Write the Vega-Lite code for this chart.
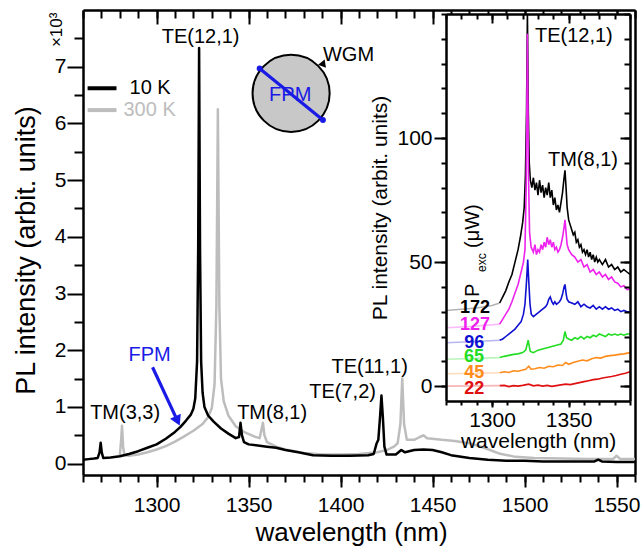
{
  "$schema": "https://vega.github.io/schema/vega-lite/v6.json",
  "width": 552,
  "height": 465,
  "autosize": {"type": "none"},
  "padding": {"left": 83, "top": 10, "right": 6, "bottom": 82},
  "background": "white",
  "config": {
    "view": {"stroke": null},
    "font": "Liberation Sans",
    "axis": {"grid": false, "domainColor": "black", "domainWidth": 2.5, "tickColor": "black", "tickWidth": 2, "labelColor": "black", "titleColor": "black", "labelFont": "Liberation Sans", "titleFont": "Liberation Sans", "titleFontWeight": "normal", "labelOverlap": false, "labelFlush": false},
    "text": {"font": "Liberation Sans"}
  },
  "datasets": {
    "main": [
      {"wl": 1280, "pl": 0.14, "T": "300 K"}, {"wl": 1280.7, "pl": 0.4, "T": "300 K"}, {"wl": 1281.2, "pl": 0.67, "T": "300 K"}, {"wl": 1281.8, "pl": 0.3, "T": "300 K"}, {"wl": 1282.5, "pl": 0.15, "T": "300 K"}, {"wl": 1285, "pl": 0.14, "T": "300 K"}, {"wl": 1290, "pl": 0.16, "T": "300 K"}, {"wl": 1295, "pl": 0.2, "T": "300 K"}, {"wl": 1300, "pl": 0.25, "T": "300 K"}, {"wl": 1305, "pl": 0.31, "T": "300 K"}, {"wl": 1310, "pl": 0.39, "T": "300 K"}, {"wl": 1315, "pl": 0.48, "T": "300 K"}, {"wl": 1320, "pl": 0.58, "T": "300 K"}, {"wl": 1325, "pl": 0.7, "T": "300 K"}, {"wl": 1328, "pl": 0.82, "T": "300 K"}, {"wl": 1330, "pl": 0.98, "T": "300 K"}, {"wl": 1331.5, "pl": 1.4, "T": "300 K"}, {"wl": 1332.5, "pl": 2.8, "T": "300 K"}, {"wl": 1333.3, "pl": 6.25, "T": "300 K"}, {"wl": 1334.1, "pl": 2.8, "T": "300 K"}, {"wl": 1335, "pl": 1.5, "T": "300 K"}, {"wl": 1336.5, "pl": 1.1, "T": "300 K"}, {"wl": 1339, "pl": 0.85, "T": "300 K"}, {"wl": 1343, "pl": 0.66, "T": "300 K"}, {"wl": 1348, "pl": 0.55, "T": "300 K"}, {"wl": 1353, "pl": 0.48, "T": "300 K"}, {"wl": 1356, "pl": 0.45, "T": "300 K"}, {"wl": 1357, "pl": 0.6, "T": "300 K"}, {"wl": 1357.8, "pl": 0.72, "T": "300 K"}, {"wl": 1358.6, "pl": 0.5, "T": "300 K"}, {"wl": 1360, "pl": 0.38, "T": "300 K"}, {"wl": 1365, "pl": 0.3, "T": "300 K"}, {"wl": 1370, "pl": 0.25, "T": "300 K"}, {"wl": 1380, "pl": 0.19, "T": "300 K"}, {"wl": 1390, "pl": 0.16, "T": "300 K"}, {"wl": 1400, "pl": 0.16, "T": "300 K"}, {"wl": 1410, "pl": 0.17, "T": "300 K"}, {"wl": 1420, "pl": 0.2, "T": "300 K"}, {"wl": 1425, "pl": 0.24, "T": "300 K"}, {"wl": 1429, "pl": 0.3, "T": "300 K"}, {"wl": 1431, "pl": 0.36, "T": "300 K"}, {"wl": 1432.5, "pl": 0.7, "T": "300 K"}, {"wl": 1433.5, "pl": 1.5, "T": "300 K"}, {"wl": 1434.5, "pl": 0.7, "T": "300 K"}, {"wl": 1436, "pl": 0.42, "T": "300 K"}, {"wl": 1440, "pl": 0.42, "T": "300 K"}, {"wl": 1443, "pl": 0.47, "T": "300 K"}, {"wl": 1445, "pl": 0.5, "T": "300 K"}, {"wl": 1447, "pl": 0.45, "T": "300 K"}, {"wl": 1455, "pl": 0.42, "T": "300 K"}, {"wl": 1462, "pl": 0.4, "T": "300 K"}, {"wl": 1470, "pl": 0.36, "T": "300 K"}, {"wl": 1478, "pl": 0.28, "T": "300 K"}, {"wl": 1486, "pl": 0.18, "T": "300 K"}, {"wl": 1495, "pl": 0.12, "T": "300 K"}, {"wl": 1505, "pl": 0.1, "T": "300 K"}, {"wl": 1520, "pl": 0.09, "T": "300 K"}, {"wl": 1535, "pl": 0.08, "T": "300 K"}, {"wl": 1548, "pl": 0.08, "T": "300 K"}, {"wl": 1550, "pl": 0.14, "T": "300 K"}, {"wl": 1552, "pl": 0.08, "T": "300 K"}, {"wl": 1560, "pl": 0.08, "T": "300 K"},
      {"wl": 1260, "pl": 0.07, "T": "10 K"}, {"wl": 1263, "pl": 0.08, "T": "10 K"}, {"wl": 1266, "pl": 0.09, "T": "10 K"}, {"wl": 1268, "pl": 0.1, "T": "10 K"}, {"wl": 1269, "pl": 0.2, "T": "10 K"}, {"wl": 1269.6, "pl": 0.37, "T": "10 K"}, {"wl": 1270.2, "pl": 0.2, "T": "10 K"}, {"wl": 1271, "pl": 0.1, "T": "10 K"}, {"wl": 1275, "pl": 0.11, "T": "10 K"}, {"wl": 1280, "pl": 0.13, "T": "10 K"}, {"wl": 1285, "pl": 0.17, "T": "10 K"}, {"wl": 1290, "pl": 0.22, "T": "10 K"}, {"wl": 1295, "pl": 0.28, "T": "10 K"}, {"wl": 1300, "pl": 0.34, "T": "10 K"}, {"wl": 1305, "pl": 0.44, "T": "10 K"}, {"wl": 1310, "pl": 0.56, "T": "10 K"}, {"wl": 1313, "pl": 0.65, "T": "10 K"}, {"wl": 1316, "pl": 0.76, "T": "10 K"}, {"wl": 1318.5, "pl": 0.86, "T": "10 K"}, {"wl": 1320, "pl": 0.97, "T": "10 K"}, {"wl": 1321, "pl": 1.15, "T": "10 K"}, {"wl": 1322, "pl": 1.8, "T": "10 K"}, {"wl": 1322.6, "pl": 3.8, "T": "10 K"}, {"wl": 1323.1, "pl": 7.33, "T": "10 K"}, {"wl": 1323.6, "pl": 3.8, "T": "10 K"}, {"wl": 1324.2, "pl": 1.8, "T": "10 K"}, {"wl": 1325, "pl": 1.25, "T": "10 K"}, {"wl": 1326, "pl": 1.0, "T": "10 K"}, {"wl": 1328, "pl": 0.85, "T": "10 K"}, {"wl": 1331, "pl": 0.74, "T": "10 K"}, {"wl": 1335, "pl": 0.62, "T": "10 K"}, {"wl": 1339, "pl": 0.53, "T": "10 K"}, {"wl": 1343, "pl": 0.45, "T": "10 K"}, {"wl": 1344.8, "pl": 0.47, "T": "10 K"}, {"wl": 1345.6, "pl": 0.72, "T": "10 K"}, {"wl": 1346.4, "pl": 0.5, "T": "10 K"}, {"wl": 1347.5, "pl": 0.38, "T": "10 K"}, {"wl": 1350, "pl": 0.34, "T": "10 K"}, {"wl": 1355, "pl": 0.32, "T": "10 K"}, {"wl": 1360, "pl": 0.3, "T": "10 K"}, {"wl": 1365, "pl": 0.28, "T": "10 K"}, {"wl": 1370, "pl": 0.24, "T": "10 K"}, {"wl": 1377, "pl": 0.2, "T": "10 K"}, {"wl": 1385, "pl": 0.15, "T": "10 K"}, {"wl": 1395, "pl": 0.14, "T": "10 K"}, {"wl": 1405, "pl": 0.14, "T": "10 K"}, {"wl": 1415, "pl": 0.15, "T": "10 K"}, {"wl": 1418, "pl": 0.17, "T": "10 K"}, {"wl": 1419.5, "pl": 0.35, "T": "10 K"}, {"wl": 1420.5, "pl": 0.42, "T": "10 K"}, {"wl": 1421.5, "pl": 0.85, "T": "10 K"}, {"wl": 1422.2, "pl": 1.2, "T": "10 K"}, {"wl": 1423, "pl": 0.8, "T": "10 K"}, {"wl": 1423.8, "pl": 0.3, "T": "10 K"}, {"wl": 1425, "pl": 0.16, "T": "10 K"}, {"wl": 1430, "pl": 0.16, "T": "10 K"}, {"wl": 1433, "pl": 0.24, "T": "10 K"}, {"wl": 1435, "pl": 0.2, "T": "10 K"}, {"wl": 1440, "pl": 0.24, "T": "10 K"}, {"wl": 1445, "pl": 0.25, "T": "10 K"}, {"wl": 1450, "pl": 0.24, "T": "10 K"}, {"wl": 1455, "pl": 0.2, "T": "10 K"}, {"wl": 1460, "pl": 0.15, "T": "10 K"}, {"wl": 1470, "pl": 0.1, "T": "10 K"}, {"wl": 1480, "pl": 0.07, "T": "10 K"}, {"wl": 1490, "pl": 0.05, "T": "10 K"}, {"wl": 1500, "pl": 0.05, "T": "10 K"}, {"wl": 1510, "pl": 0.04, "T": "10 K"}, {"wl": 1520, "pl": 0.04, "T": "10 K"}, {"wl": 1530, "pl": 0.04, "T": "10 K"}, {"wl": 1538, "pl": 0.04, "T": "10 K"}, {"wl": 1540, "pl": 0.07, "T": "10 K"}, {"wl": 1542, "pl": 0.04, "T": "10 K"}, {"wl": 1550, "pl": 0.03, "T": "10 K"}, {"wl": 1560, "pl": 0.03, "T": "10 K"}
    ],
    "insetFaded": [
      {"wl": 1270, "v": 30.5, "s": "172"}, {"wl": 1280, "v": 31, "s": "172"}, {"wl": 1290, "v": 31.5, "s": "172"}, {"wl": 1300, "v": 32.5, "s": "172"}, {"wl": 1305, "v": 33.5, "s": "172"},
      {"wl": 1270, "v": 23.5, "s": "127"}, {"wl": 1285, "v": 24, "s": "127"}, {"wl": 1305, "v": 25, "s": "127"},
      {"wl": 1270, "v": 17.5, "s": "96"}, {"wl": 1290, "v": 18, "s": "96"}, {"wl": 1305, "v": 18.5, "s": "96"},
      {"wl": 1270, "v": 10.8, "s": "65"}, {"wl": 1290, "v": 11.2, "s": "65"}, {"wl": 1305, "v": 11.5, "s": "65"},
      {"wl": 1270, "v": 5, "s": "45"}, {"wl": 1290, "v": 5.2, "s": "45"}, {"wl": 1305, "v": 5.4, "s": "45"},
      {"wl": 1270, "v": 0, "s": "22"}, {"wl": 1290, "v": 0.1, "s": "22"}, {"wl": 1305, "v": 0.2, "s": "22"}
    ],
    "inset": [
      {"wl": 1305, "v": 33.5, "s": "172"}, {"wl": 1307, "v": 36, "s": "172"}, {"wl": 1309, "v": 38.5, "s": "172"}, {"wl": 1311, "v": 42, "s": "172"}, {"wl": 1313, "v": 45, "s": "172"}, {"wl": 1315, "v": 50, "s": "172"}, {"wl": 1317, "v": 55, "s": "172"}, {"wl": 1318.5, "v": 60, "s": "172"}, {"wl": 1320, "v": 66, "s": "172"}, {"wl": 1321, "v": 72, "s": "172"}, {"wl": 1321.8, "v": 85, "s": "172"}, {"wl": 1322.5, "v": 110, "s": "172"}, {"wl": 1323.1, "v": 150, "s": "172"}, {"wl": 1323.7, "v": 110, "s": "172"}, {"wl": 1324.3, "v": 90, "s": "172"}, {"wl": 1325, "v": 83, "s": "172"}, {"wl": 1326, "v": 80, "s": "172"}, {"wl": 1327, "v": 84, "s": "172"}, {"wl": 1328, "v": 79, "s": "172"}, {"wl": 1329, "v": 82, "s": "172"}, {"wl": 1330, "v": 77, "s": "172"}, {"wl": 1331, "v": 83, "s": "172"}, {"wl": 1332, "v": 78, "s": "172"}, {"wl": 1333, "v": 81, "s": "172"}, {"wl": 1334, "v": 76, "s": "172"}, {"wl": 1335, "v": 80, "s": "172"}, {"wl": 1336, "v": 77, "s": "172"}, {"wl": 1337, "v": 82, "s": "172"}, {"wl": 1338, "v": 76, "s": "172"}, {"wl": 1339, "v": 79, "s": "172"}, {"wl": 1340, "v": 73, "s": "172"}, {"wl": 1341, "v": 76, "s": "172"}, {"wl": 1342, "v": 71, "s": "172"}, {"wl": 1343, "v": 73, "s": "172"}, {"wl": 1344, "v": 70, "s": "172"}, {"wl": 1345, "v": 74, "s": "172"}, {"wl": 1346, "v": 78, "s": "172"}, {"wl": 1347, "v": 84, "s": "172"}, {"wl": 1347.6, "v": 87, "s": "172"}, {"wl": 1348.3, "v": 80, "s": "172"}, {"wl": 1349, "v": 72, "s": "172"}, {"wl": 1350, "v": 67, "s": "172"}, {"wl": 1351, "v": 65, "s": "172"}, {"wl": 1352, "v": 63, "s": "172"}, {"wl": 1353, "v": 61, "s": "172"}, {"wl": 1354, "v": 62, "s": "172"}, {"wl": 1355, "v": 58, "s": "172"}, {"wl": 1356, "v": 59, "s": "172"}, {"wl": 1357, "v": 56, "s": "172"}, {"wl": 1358, "v": 57, "s": "172"}, {"wl": 1359, "v": 54, "s": "172"}, {"wl": 1360, "v": 55, "s": "172"}, {"wl": 1361, "v": 53, "s": "172"}, {"wl": 1362, "v": 55, "s": "172"}, {"wl": 1363, "v": 52, "s": "172"}, {"wl": 1364, "v": 54, "s": "172"}, {"wl": 1365, "v": 51, "s": "172"}, {"wl": 1366, "v": 53, "s": "172"}, {"wl": 1367, "v": 50, "s": "172"}, {"wl": 1368, "v": 52, "s": "172"}, {"wl": 1369, "v": 50, "s": "172"}, {"wl": 1370, "v": 51, "s": "172"}, {"wl": 1372, "v": 49, "s": "172"}, {"wl": 1374, "v": 51, "s": "172"}, {"wl": 1376, "v": 48, "s": "172"}, {"wl": 1378, "v": 49, "s": "172"}, {"wl": 1380, "v": 47, "s": "172"}, {"wl": 1382, "v": 48, "s": "172"}, {"wl": 1384, "v": 46, "s": "172"}, {"wl": 1386, "v": 47, "s": "172"}, {"wl": 1388, "v": 46, "s": "172"}, {"wl": 1390, "v": 45, "s": "172"},
      {"wl": 1305, "v": 25, "s": "127"}, {"wl": 1307, "v": 27, "s": "127"}, {"wl": 1309, "v": 29, "s": "127"}, {"wl": 1311, "v": 31, "s": "127"}, {"wl": 1313, "v": 34, "s": "127"}, {"wl": 1315, "v": 37.5, "s": "127"}, {"wl": 1317, "v": 41, "s": "127"}, {"wl": 1319, "v": 46, "s": "127"}, {"wl": 1320.5, "v": 50, "s": "127"}, {"wl": 1321.5, "v": 55, "s": "127"}, {"wl": 1322.3, "v": 80, "s": "127"}, {"wl": 1323.1, "v": 142, "s": "127"}, {"wl": 1323.8, "v": 85, "s": "127"}, {"wl": 1324.5, "v": 62, "s": "127"}, {"wl": 1325.5, "v": 56, "s": "127"}, {"wl": 1327, "v": 54, "s": "127"}, {"wl": 1328, "v": 57, "s": "127"}, {"wl": 1329, "v": 53, "s": "127"}, {"wl": 1330, "v": 55, "s": "127"}, {"wl": 1331, "v": 54, "s": "127"}, {"wl": 1332, "v": 57, "s": "127"}, {"wl": 1333, "v": 55, "s": "127"}, {"wl": 1334, "v": 58, "s": "127"}, {"wl": 1335, "v": 56, "s": "127"}, {"wl": 1336, "v": 60, "s": "127"}, {"wl": 1337, "v": 57, "s": "127"}, {"wl": 1338, "v": 59, "s": "127"}, {"wl": 1339, "v": 56, "s": "127"}, {"wl": 1340, "v": 58, "s": "127"}, {"wl": 1341, "v": 55, "s": "127"}, {"wl": 1342, "v": 56, "s": "127"}, {"wl": 1343, "v": 54, "s": "127"}, {"wl": 1344, "v": 55, "s": "127"}, {"wl": 1345, "v": 57, "s": "127"}, {"wl": 1346, "v": 60, "s": "127"}, {"wl": 1347, "v": 64, "s": "127"}, {"wl": 1347.6, "v": 67, "s": "127"}, {"wl": 1348.3, "v": 62, "s": "127"}, {"wl": 1349, "v": 57, "s": "127"}, {"wl": 1350, "v": 55, "s": "127"}, {"wl": 1352, "v": 53, "s": "127"}, {"wl": 1354, "v": 52, "s": "127"}, {"wl": 1356, "v": 50, "s": "127"}, {"wl": 1358, "v": 51, "s": "127"}, {"wl": 1360, "v": 48, "s": "127"}, {"wl": 1362, "v": 49, "s": "127"}, {"wl": 1364, "v": 46, "s": "127"}, {"wl": 1366, "v": 47, "s": "127"}, {"wl": 1368, "v": 45, "s": "127"}, {"wl": 1370, "v": 46, "s": "127"}, {"wl": 1372, "v": 44, "s": "127"}, {"wl": 1374, "v": 45, "s": "127"}, {"wl": 1376, "v": 43, "s": "127"}, {"wl": 1378, "v": 44, "s": "127"}, {"wl": 1380, "v": 42, "s": "127"}, {"wl": 1382, "v": 41.5, "s": "127"}, {"wl": 1384, "v": 40, "s": "127"}, {"wl": 1386, "v": 40.5, "s": "127"}, {"wl": 1388, "v": 39, "s": "127"}, {"wl": 1390, "v": 39, "s": "127"},
      {"wl": 1305, "v": 18.5, "s": "96"}, {"wl": 1307, "v": 19, "s": "96"}, {"wl": 1309, "v": 20, "s": "96"}, {"wl": 1311, "v": 21, "s": "96"}, {"wl": 1313, "v": 22, "s": "96"}, {"wl": 1315, "v": 23, "s": "96"}, {"wl": 1317, "v": 24.5, "s": "96"}, {"wl": 1319, "v": 26, "s": "96"}, {"wl": 1320.5, "v": 29, "s": "96"}, {"wl": 1321.5, "v": 33, "s": "96"}, {"wl": 1322.5, "v": 42, "s": "96"}, {"wl": 1323.3, "v": 51, "s": "96"}, {"wl": 1324, "v": 42, "s": "96"}, {"wl": 1324.8, "v": 33, "s": "96"}, {"wl": 1325.6, "v": 29, "s": "96"}, {"wl": 1327, "v": 28, "s": "96"}, {"wl": 1329, "v": 29, "s": "96"}, {"wl": 1331, "v": 30, "s": "96"}, {"wl": 1333, "v": 31, "s": "96"}, {"wl": 1335, "v": 32, "s": "96"}, {"wl": 1336, "v": 33, "s": "96"}, {"wl": 1337, "v": 35, "s": "96"}, {"wl": 1338, "v": 36, "s": "96"}, {"wl": 1339, "v": 34, "s": "96"}, {"wl": 1340, "v": 33, "s": "96"}, {"wl": 1341, "v": 34, "s": "96"}, {"wl": 1342, "v": 33, "s": "96"}, {"wl": 1343, "v": 33.5, "s": "96"}, {"wl": 1344, "v": 34, "s": "96"}, {"wl": 1345, "v": 35, "s": "96"}, {"wl": 1346, "v": 37, "s": "96"}, {"wl": 1347, "v": 40, "s": "96"}, {"wl": 1347.6, "v": 41, "s": "96"}, {"wl": 1348.4, "v": 37, "s": "96"}, {"wl": 1349, "v": 35, "s": "96"}, {"wl": 1350, "v": 34, "s": "96"}, {"wl": 1352, "v": 33.5, "s": "96"}, {"wl": 1354, "v": 33, "s": "96"}, {"wl": 1356, "v": 34, "s": "96"}, {"wl": 1358, "v": 32, "s": "96"}, {"wl": 1360, "v": 33, "s": "96"}, {"wl": 1362, "v": 32, "s": "96"}, {"wl": 1364, "v": 31.5, "s": "96"}, {"wl": 1366, "v": 32.5, "s": "96"}, {"wl": 1368, "v": 31, "s": "96"}, {"wl": 1370, "v": 32, "s": "96"}, {"wl": 1372, "v": 31, "s": "96"}, {"wl": 1374, "v": 32, "s": "96"}, {"wl": 1376, "v": 31, "s": "96"}, {"wl": 1378, "v": 31.5, "s": "96"}, {"wl": 1380, "v": 30.5, "s": "96"}, {"wl": 1382, "v": 31, "s": "96"}, {"wl": 1384, "v": 30, "s": "96"}, {"wl": 1386, "v": 30.5, "s": "96"}, {"wl": 1388, "v": 30, "s": "96"}, {"wl": 1390, "v": 30, "s": "96"},
      {"wl": 1305, "v": 11.5, "s": "65"}, {"wl": 1308, "v": 12, "s": "65"}, {"wl": 1311, "v": 12.4, "s": "65"}, {"wl": 1314, "v": 12.8, "s": "65"}, {"wl": 1317, "v": 13, "s": "65"}, {"wl": 1320, "v": 13.5, "s": "65"}, {"wl": 1322, "v": 14.5, "s": "65"}, {"wl": 1323, "v": 17, "s": "65"}, {"wl": 1323.6, "v": 18.5, "s": "65"}, {"wl": 1324.3, "v": 16, "s": "65"}, {"wl": 1325, "v": 14, "s": "65"}, {"wl": 1327, "v": 13.5, "s": "65"}, {"wl": 1330, "v": 14.5, "s": "65"}, {"wl": 1333, "v": 15, "s": "65"}, {"wl": 1336, "v": 15.5, "s": "65"}, {"wl": 1339, "v": 16, "s": "65"}, {"wl": 1342, "v": 16.5, "s": "65"}, {"wl": 1345, "v": 17, "s": "65"}, {"wl": 1346.5, "v": 18.5, "s": "65"}, {"wl": 1347.6, "v": 22, "s": "65"}, {"wl": 1348.6, "v": 19.5, "s": "65"}, {"wl": 1350, "v": 19, "s": "65"}, {"wl": 1352, "v": 18.5, "s": "65"}, {"wl": 1354, "v": 19.5, "s": "65"}, {"wl": 1356, "v": 19, "s": "65"}, {"wl": 1358, "v": 20, "s": "65"}, {"wl": 1360, "v": 19, "s": "65"}, {"wl": 1362, "v": 20, "s": "65"}, {"wl": 1364, "v": 19.5, "s": "65"}, {"wl": 1366, "v": 20.5, "s": "65"}, {"wl": 1368, "v": 20, "s": "65"}, {"wl": 1370, "v": 21, "s": "65"}, {"wl": 1372, "v": 20.5, "s": "65"}, {"wl": 1374, "v": 20, "s": "65"}, {"wl": 1376, "v": 21, "s": "65"}, {"wl": 1378, "v": 20.5, "s": "65"}, {"wl": 1380, "v": 21, "s": "65"}, {"wl": 1382, "v": 20.5, "s": "65"}, {"wl": 1384, "v": 21, "s": "65"}, {"wl": 1386, "v": 20.5, "s": "65"}, {"wl": 1388, "v": 21, "s": "65"}, {"wl": 1390, "v": 21, "s": "65"},
      {"wl": 1305, "v": 5.4, "s": "45"}, {"wl": 1308, "v": 5.8, "s": "45"}, {"wl": 1311, "v": 5.5, "s": "45"}, {"wl": 1314, "v": 6.2, "s": "45"}, {"wl": 1317, "v": 6, "s": "45"}, {"wl": 1320, "v": 6.5, "s": "45"}, {"wl": 1322, "v": 6.8, "s": "45"}, {"wl": 1324, "v": 8, "s": "45"}, {"wl": 1325.5, "v": 6.8, "s": "45"}, {"wl": 1328, "v": 7, "s": "45"}, {"wl": 1331, "v": 7.5, "s": "45"}, {"wl": 1334, "v": 7.2, "s": "45"}, {"wl": 1337, "v": 8, "s": "45"}, {"wl": 1340, "v": 7.8, "s": "45"}, {"wl": 1343, "v": 8.5, "s": "45"}, {"wl": 1346, "v": 8.3, "s": "45"}, {"wl": 1348, "v": 9.5, "s": "45"}, {"wl": 1350, "v": 8.8, "s": "45"}, {"wl": 1353, "v": 9.5, "s": "45"}, {"wl": 1356, "v": 10, "s": "45"}, {"wl": 1359, "v": 10.5, "s": "45"}, {"wl": 1362, "v": 10.2, "s": "45"}, {"wl": 1365, "v": 11, "s": "45"}, {"wl": 1368, "v": 11.5, "s": "45"}, {"wl": 1371, "v": 11.3, "s": "45"}, {"wl": 1374, "v": 12, "s": "45"}, {"wl": 1377, "v": 12.3, "s": "45"}, {"wl": 1380, "v": 12.5, "s": "45"}, {"wl": 1383, "v": 12.8, "s": "45"}, {"wl": 1386, "v": 13, "s": "45"}, {"wl": 1390, "v": 13.5, "s": "45"},
      {"wl": 1305, "v": 0.2, "s": "22"}, {"wl": 1308, "v": 0.3, "s": "22"}, {"wl": 1311, "v": -0.2, "s": "22"}, {"wl": 1314, "v": 0.2, "s": "22"}, {"wl": 1317, "v": 0, "s": "22"}, {"wl": 1320, "v": 0.3, "s": "22"}, {"wl": 1324, "v": 0.8, "s": "22"}, {"wl": 1327, "v": 0.1, "s": "22"}, {"wl": 1330, "v": 0.4, "s": "22"}, {"wl": 1333, "v": 0, "s": "22"}, {"wl": 1336, "v": 0.3, "s": "22"}, {"wl": 1339, "v": -0.1, "s": "22"}, {"wl": 1342, "v": 0.2, "s": "22"}, {"wl": 1345, "v": 0.5, "s": "22"}, {"wl": 1348, "v": 0.8, "s": "22"}, {"wl": 1351, "v": 0.6, "s": "22"}, {"wl": 1354, "v": 1, "s": "22"}, {"wl": 1357, "v": 1.4, "s": "22"}, {"wl": 1360, "v": 1.8, "s": "22"}, {"wl": 1363, "v": 2.2, "s": "22"}, {"wl": 1366, "v": 2.6, "s": "22"}, {"wl": 1369, "v": 2.8, "s": "22"}, {"wl": 1372, "v": 3.3, "s": "22"}, {"wl": 1375, "v": 3.6, "s": "22"}, {"wl": 1378, "v": 3.9, "s": "22"}, {"wl": 1381, "v": 4.3, "s": "22"}, {"wl": 1384, "v": 4.8, "s": "22"}, {"wl": 1387, "v": 5.2, "s": "22"}, {"wl": 1390, "v": 5.8, "s": "22"}
    ]
  },
  "resolve": {"scale": {"x": "independent", "y": "independent", "color": "independent"}, "axis": {"x": "independent", "y": "independent"}},
  "layer": [
    {
      "layer": [
        {
          "data": {"name": "main"},
          "mark": {"type": "line", "strokeWidth": 2.5, "strokeJoin": "round"},
          "encoding": {
            "x": {"field": "wl", "type": "quantitative", "scale": {"domain": [1260, 1560], "nice": false, "zero": false},
              "axis": {"orient": "bottom", "values": [1300, 1350, 1400, 1450, 1500, 1550], "format": "d", "tickSize": 12, "labelFontSize": 21, "labelPadding": 7, "title": "wavelength (nm)", "titleFontSize": 26, "titlePadding": 4, "titleX": 268}},
            "y": {"field": "pl", "type": "quantitative", "scale": {"domain": [-0.2, 8], "nice": false, "zero": false},
              "axis": {"orient": "left", "values": [0, 1, 2, 3, 4, 5, 6, 7], "format": "d", "tickSize": 16, "labelFontSize": 21, "labelPadding": 1, "title": "PL intensity (arbit. units)", "titleFontSize": 27, "titlePadding": 14, "titleY": 240}},
            "color": {"field": "T", "type": "nominal", "scale": {"domain": ["300 K", "10 K"], "range": ["#bdbdbd", "#000000"]}, "legend": null}
          }
        },
        {
          "data": {"values": [{"x": 1262.5, "x2": 1278.2, "y": 6.62, "T": "10 K"}, {"x": 1262.5, "x2": 1278.2, "y": 6.235, "T": "300 K"}]},
          "mark": {"type": "rule", "strokeWidth": 4},
          "encoding": {
            "x": {"field": "x", "type": "quantitative"}, "x2": {"field": "x2"},
            "y": {"field": "y", "type": "quantitative"},
            "color": {"field": "T", "type": "nominal", "legend": null}
          }
        },
        {
          "data": {"values": [{"x": 1285.3, "y": 6.62, "T": "10 K"}, {"x": 1282, "y": 6.235, "T": "300 K"}]},
          "mark": {"type": "text", "fontSize": 20, "align": "left", "baseline": "middle"},
          "encoding": {
            "x": {"field": "x", "type": "quantitative"},
            "y": {"field": "y", "type": "quantitative"},
            "text": {"field": "T"},
            "color": {"field": "T", "type": "nominal", "legend": null}
          }
        },
        {
          "data": {"values": [{"x": 1373.1, "y": 6.53}]},
          "mark": {"type": "point", "shape": "circle", "filled": true, "fill": "#c8c8c8", "stroke": "black", "strokeWidth": 2, "size": 5945, "opacity": 1, "fillOpacity": 1, "strokeOpacity": 1},
          "encoding": {"x": {"field": "x", "type": "quantitative"}, "y": {"field": "y", "type": "quantitative"}}
        },
        {
          "data": {"values": [{"x": 1356, "y": 6.97, "x2": 1390.4, "y2": 6.06}, {"x": 1297.8, "y": 1.7, "x2": 1310.3, "y2": 0.83}]},
          "mark": {"type": "rule", "color": "#1a1ae6", "strokeWidth": 3.2},
          "encoding": {"x": {"field": "x", "type": "quantitative"}, "y": {"field": "y", "type": "quantitative"}, "x2": {"field": "x2"}, "y2": {"field": "y2"}}
        },
        {
          "data": {"values": [{"x": 1356, "y": 6.97}, {"x": 1390.4, "y": 6.06}]},
          "mark": {"type": "point", "shape": "circle", "filled": true, "color": "#1a1ae6", "size": 35, "opacity": 1},
          "encoding": {"x": {"field": "x", "type": "quantitative"}, "y": {"field": "y", "type": "quantitative"}}
        },
        {
          "data": {"values": [{"x": 1311.4, "y": 0.755}]},
          "mark": {"type": "point", "shape": "triangle-down", "filled": true, "color": "#1a1ae6", "size": 140, "angle": 335, "opacity": 1},
          "encoding": {"x": {"field": "x", "type": "quantitative"}, "y": {"field": "y", "type": "quantitative"}}
        },
        {
          "data": {"values": [{"x": 1390.8, "y": 7.03}]},
          "mark": {"type": "point", "shape": "triangle-down", "filled": true, "color": "black", "size": 70, "angle": 321, "opacity": 1},
          "encoding": {"x": {"field": "x", "type": "quantitative"}, "y": {"field": "y", "type": "quantitative"}}
        },
        {
          "data": {"values": [{"x": 1372.6, "y": 6.5, "t": "FPM"}, {"x": 1296.2, "y": 1.91, "t": "FPM"}]},
          "mark": {"type": "text", "fontSize": 20, "color": "#1a1ae6", "align": "center", "baseline": "middle"},
          "encoding": {"x": {"field": "x", "type": "quantitative"}, "y": {"field": "y", "type": "quantitative"}, "text": {"field": "t"}}
        },
        {
          "data": {"values": [{"x": 1323.9, "y": 7.53, "t": "TE(12,1)"}, {"x": 1282.9, "y": 0.887, "t": "TM(3,3)"}, {"x": 1362.8, "y": 0.887, "t": "TM(8,1)"}, {"x": 1401.1, "y": 1.27, "t": "TE(7,2)"}, {"x": 1415.8, "y": 1.71, "t": "TE(11,1)"}, {"x": 1404.3, "y": 7.2, "t": "WGM"}]},
          "mark": {"type": "text", "fontSize": 20, "color": "black", "align": "center", "baseline": "middle"},
          "encoding": {"x": {"field": "x", "type": "quantitative"}, "y": {"field": "y", "type": "quantitative"}, "text": {"field": "t"}}
        },
        {
          "data": {"values": [{"x": 1245.7, "y": 7.65, "t": "×10³"}]},
          "mark": {"type": "text", "fontSize": 17, "color": "black", "align": "center", "baseline": "middle", "angle": 270},
          "encoding": {"x": {"field": "x", "type": "quantitative"}, "y": {"field": "y", "type": "quantitative"}, "text": {"field": "t"}}
        }
      ]
    },
    {
      "data": {"values": [{}]},
      "mark": {"type": "point", "opacity": 0},
      "encoding": {
        "x": {"datum": 1300, "type": "quantitative", "scale": {"domain": [1260, 1560], "nice": false, "zero": false},
          "axis": {"orient": "bottom", "values": [1260, 1270, 1280, 1290, 1300, 1310, 1320, 1330, 1340, 1350, 1360, 1370, 1380, 1390, 1400, 1410, 1420, 1430, 1440, 1450, 1460, 1470, 1480, 1490, 1500, 1510, 1520, 1530, 1540, 1550, 1560], "tickSize": 7, "labels": false, "domain": false, "title": null}},
        "y": {"datum": 1, "type": "quantitative", "scale": {"domain": [-0.2, 8], "nice": false, "zero": false},
          "axis": {"orient": "left", "values": [0.5, 1.5, 2.5, 3.5, 4.5, 5.5, 6.5, 7.5], "tickSize": 9, "labels": false, "domain": false, "title": null}}
      }
    },
    {
      "data": {"values": [{}]},
      "mark": {"type": "point", "opacity": 0},
      "encoding": {
        "x": {"datum": 1300, "type": "quantitative", "scale": {"domain": [1260, 1560], "nice": false, "zero": false},
          "axis": {"orient": "bottom", "offset": -465, "values": [1300, 1350, 1400, 1450, 1500, 1550], "tickSize": 14, "labels": false, "domain": true, "title": null}},
        "y": {"datum": 1, "type": "quantitative", "scale": {"domain": [-0.2, 8], "nice": false, "zero": false},
          "axis": {"orient": "left", "offset": -552, "ticks": false, "labels": false, "domain": true, "title": null}}
      }
    },
    {
      "data": {"values": [{}]},
      "mark": {"type": "point", "opacity": 0},
      "encoding": {
        "x": {"datum": 1300, "type": "quantitative", "scale": {"domain": [1260, 1560], "nice": false, "zero": false},
          "axis": {"orient": "bottom", "offset": -465, "values": [1260, 1270, 1280, 1290, 1300, 1310, 1320, 1330, 1340, 1350, 1360, 1370, 1380, 1390, 1400, 1410, 1420, 1430, 1440, 1450, 1460, 1470, 1480, 1490, 1500, 1510, 1520, 1530, 1540, 1550, 1560], "tickSize": 8, "labels": false, "domain": false, "title": null}}
      }
    },
    {
      "layer": [
        {
          "data": {"values": [{}]},
          "mark": {"type": "rect", "color": "white", "opacity": 1},
          "encoding": {
            "x": {"datum": 1270, "type": "quantitative", "scale": {"domain": [1270, 1390], "range": [363, 547], "nice": false, "zero": false},
              "axis": {"orient": "bottom", "offset": -74, "values": [1300, 1350], "format": "d", "tickSize": 6, "labelFontSize": 21, "labelPadding": 2, "title": "wavelength (nm)", "titleFontSize": 21, "titlePadding": 0, "zindex": 1}},
            "x2": {"datum": 1390},
            "y": {"datum": -6, "type": "quantitative", "scale": {"domain": [-6, 150], "range": [391, 4], "nice": false, "zero": false},
              "axis": {"orient": "left", "offset": -363, "values": [0, 50, 100], "format": "d", "tickSize": 12, "labelFontSize": 21, "labelPadding": 2, "title": "PL intensity (arbit. units)", "titleFontSize": 21, "titlePadding": 6, "zindex": 1}},
            "y2": {"datum": 150}
          }
        },
        {
          "data": {"name": "insetFaded"},
          "mark": {"type": "line", "strokeWidth": 1.6, "opacity": 0.3},
          "encoding": {
            "x": {"field": "wl", "type": "quantitative"},
            "y": {"field": "v", "type": "quantitative"},
            "color": {"field": "s", "type": "nominal", "scale": {"domain": ["172", "127", "96", "65", "45", "22"], "range": ["#000000", "#ee22ee", "#1010d0", "#22dd22", "#ff8c1a", "#e01010"]}, "legend": null}
          }
        },
        {
          "data": {"name": "inset"},
          "mark": {"type": "line", "strokeWidth": 1.6},
          "encoding": {
            "x": {"field": "wl", "type": "quantitative"},
            "y": {"field": "v", "type": "quantitative"},
            "color": {"field": "s", "type": "nominal", "legend": null}
          }
        },
        {
          "data": {"values": [{"x": 1288.9, "y": 31.3, "s": "172"}, {"x": 1288.9, "y": 24.8, "s": "127"}, {"x": 1288.5, "y": 17.5, "s": "96"}, {"x": 1288.2, "y": 11.9, "s": "65"}, {"x": 1288.5, "y": 5.4, "s": "45"}, {"x": 1288.5, "y": -1.3, "s": "22"}]},
          "mark": {"type": "text", "fontSize": 18, "fontWeight": "bold", "align": "center", "baseline": "middle"},
          "encoding": {
            "x": {"field": "x", "type": "quantitative"},
            "y": {"field": "y", "type": "quantitative"},
            "text": {"field": "s"},
            "color": {"field": "s", "type": "nominal", "legend": null}
          }
        },
        {
          "data": {"values": [{"x": 1287.6, "y": 35.9, "t": "P"}, {"x": 1287.6, "y": 55.7, "t": "(μW)"}]},
          "mark": {"type": "text", "fontSize": 20, "color": "black", "align": "left", "baseline": "middle", "angle": 270},
          "encoding": {"x": {"field": "x", "type": "quantitative"}, "y": {"field": "y", "type": "quantitative"}, "text": {"field": "t"}}
        },
        {
          "data": {"values": [{"x": 1293.5, "y": 46, "t": "exc"}]},
          "mark": {"type": "text", "fontSize": 12, "color": "black", "align": "left", "baseline": "middle", "angle": 270},
          "encoding": {"x": {"field": "x", "type": "quantitative"}, "y": {"field": "y", "type": "quantitative"}, "text": {"field": "t"}}
        },
        {
          "data": {"values": [{"x": 1328, "y": 141, "t": "TE(12,1)"}, {"x": 1336.5, "y": 91, "t": "TM(8,1)"}]},
          "mark": {"type": "text", "fontSize": 20, "color": "black", "align": "left", "baseline": "middle"},
          "encoding": {"x": {"field": "x", "type": "quantitative"}, "y": {"field": "y", "type": "quantitative"}, "text": {"field": "t"}}
        }
      ]
    },
    {
      "data": {"values": [{}]},
      "mark": {"type": "point", "opacity": 0},
      "encoding": {
        "x": {"datum": 1300, "type": "quantitative", "scale": {"domain": [1270, 1390], "range": [363, 547], "nice": false, "zero": false},
          "axis": {"orient": "bottom", "offset": -74, "values": [1270, 1280, 1290, 1300, 1310, 1320, 1330, 1340, 1350, 1360, 1370, 1380, 1390], "tickSize": 4, "labels": false, "domain": false, "title": null, "zindex": 1}},
        "y": {"datum": 10, "type": "quantitative", "scale": {"domain": [-6, 150], "range": [391, 4], "nice": false, "zero": false},
          "axis": {"orient": "left", "offset": -363, "values": [0, 10, 20, 30, 40, 50, 60, 70, 80, 90, 100, 110, 120, 130, 140, 150], "tickSize": 5, "labels": false, "domain": false, "title": null, "zindex": 1}}
      }
    },
    {
      "data": {"values": [{}]},
      "mark": {"type": "point", "opacity": 0},
      "encoding": {
        "x": {"datum": 1300, "type": "quantitative", "scale": {"domain": [1270, 1390], "range": [363, 547], "nice": false, "zero": false},
          "axis": {"orient": "bottom", "offset": -461, "values": [1270, 1280, 1290, 1300, 1310, 1320, 1330, 1340, 1350, 1360, 1370, 1380, 1390], "tickSize": 5, "labels": false, "domain": true, "title": null, "zindex": 1}},
        "y": {"datum": 10, "type": "quantitative", "scale": {"domain": [-6, 150], "range": [391, 4], "nice": false, "zero": false},
          "axis": {"orient": "left", "offset": -547, "values": [0, 10, 20, 30, 40, 50, 60, 70, 80, 90, 100, 110, 120, 130, 140, 150], "tickSize": 6, "labels": false, "domain": true, "title": null, "zindex": 1}}
      }
    },
    {
      "data": {"values": [{}]},
      "mark": {"type": "point", "opacity": 0},
      "encoding": {
        "x": {"datum": 1300, "type": "quantitative", "scale": {"domain": [1270, 1390], "range": [363, 547], "nice": false, "zero": false},
          "axis": {"orient": "bottom", "offset": -461, "values": [1300, 1350], "tickSize": 9, "labels": false, "domain": false, "title": null, "zindex": 1}},
        "y": {"datum": 10, "type": "quantitative", "scale": {"domain": [-6, 150], "range": [391, 4], "nice": false, "zero": false},
          "axis": {"orient": "left", "offset": -547, "values": [0, 50, 100], "tickSize": 10, "labels": false, "domain": false, "title": null, "zindex": 1}}
      }
    }
  ]
}
